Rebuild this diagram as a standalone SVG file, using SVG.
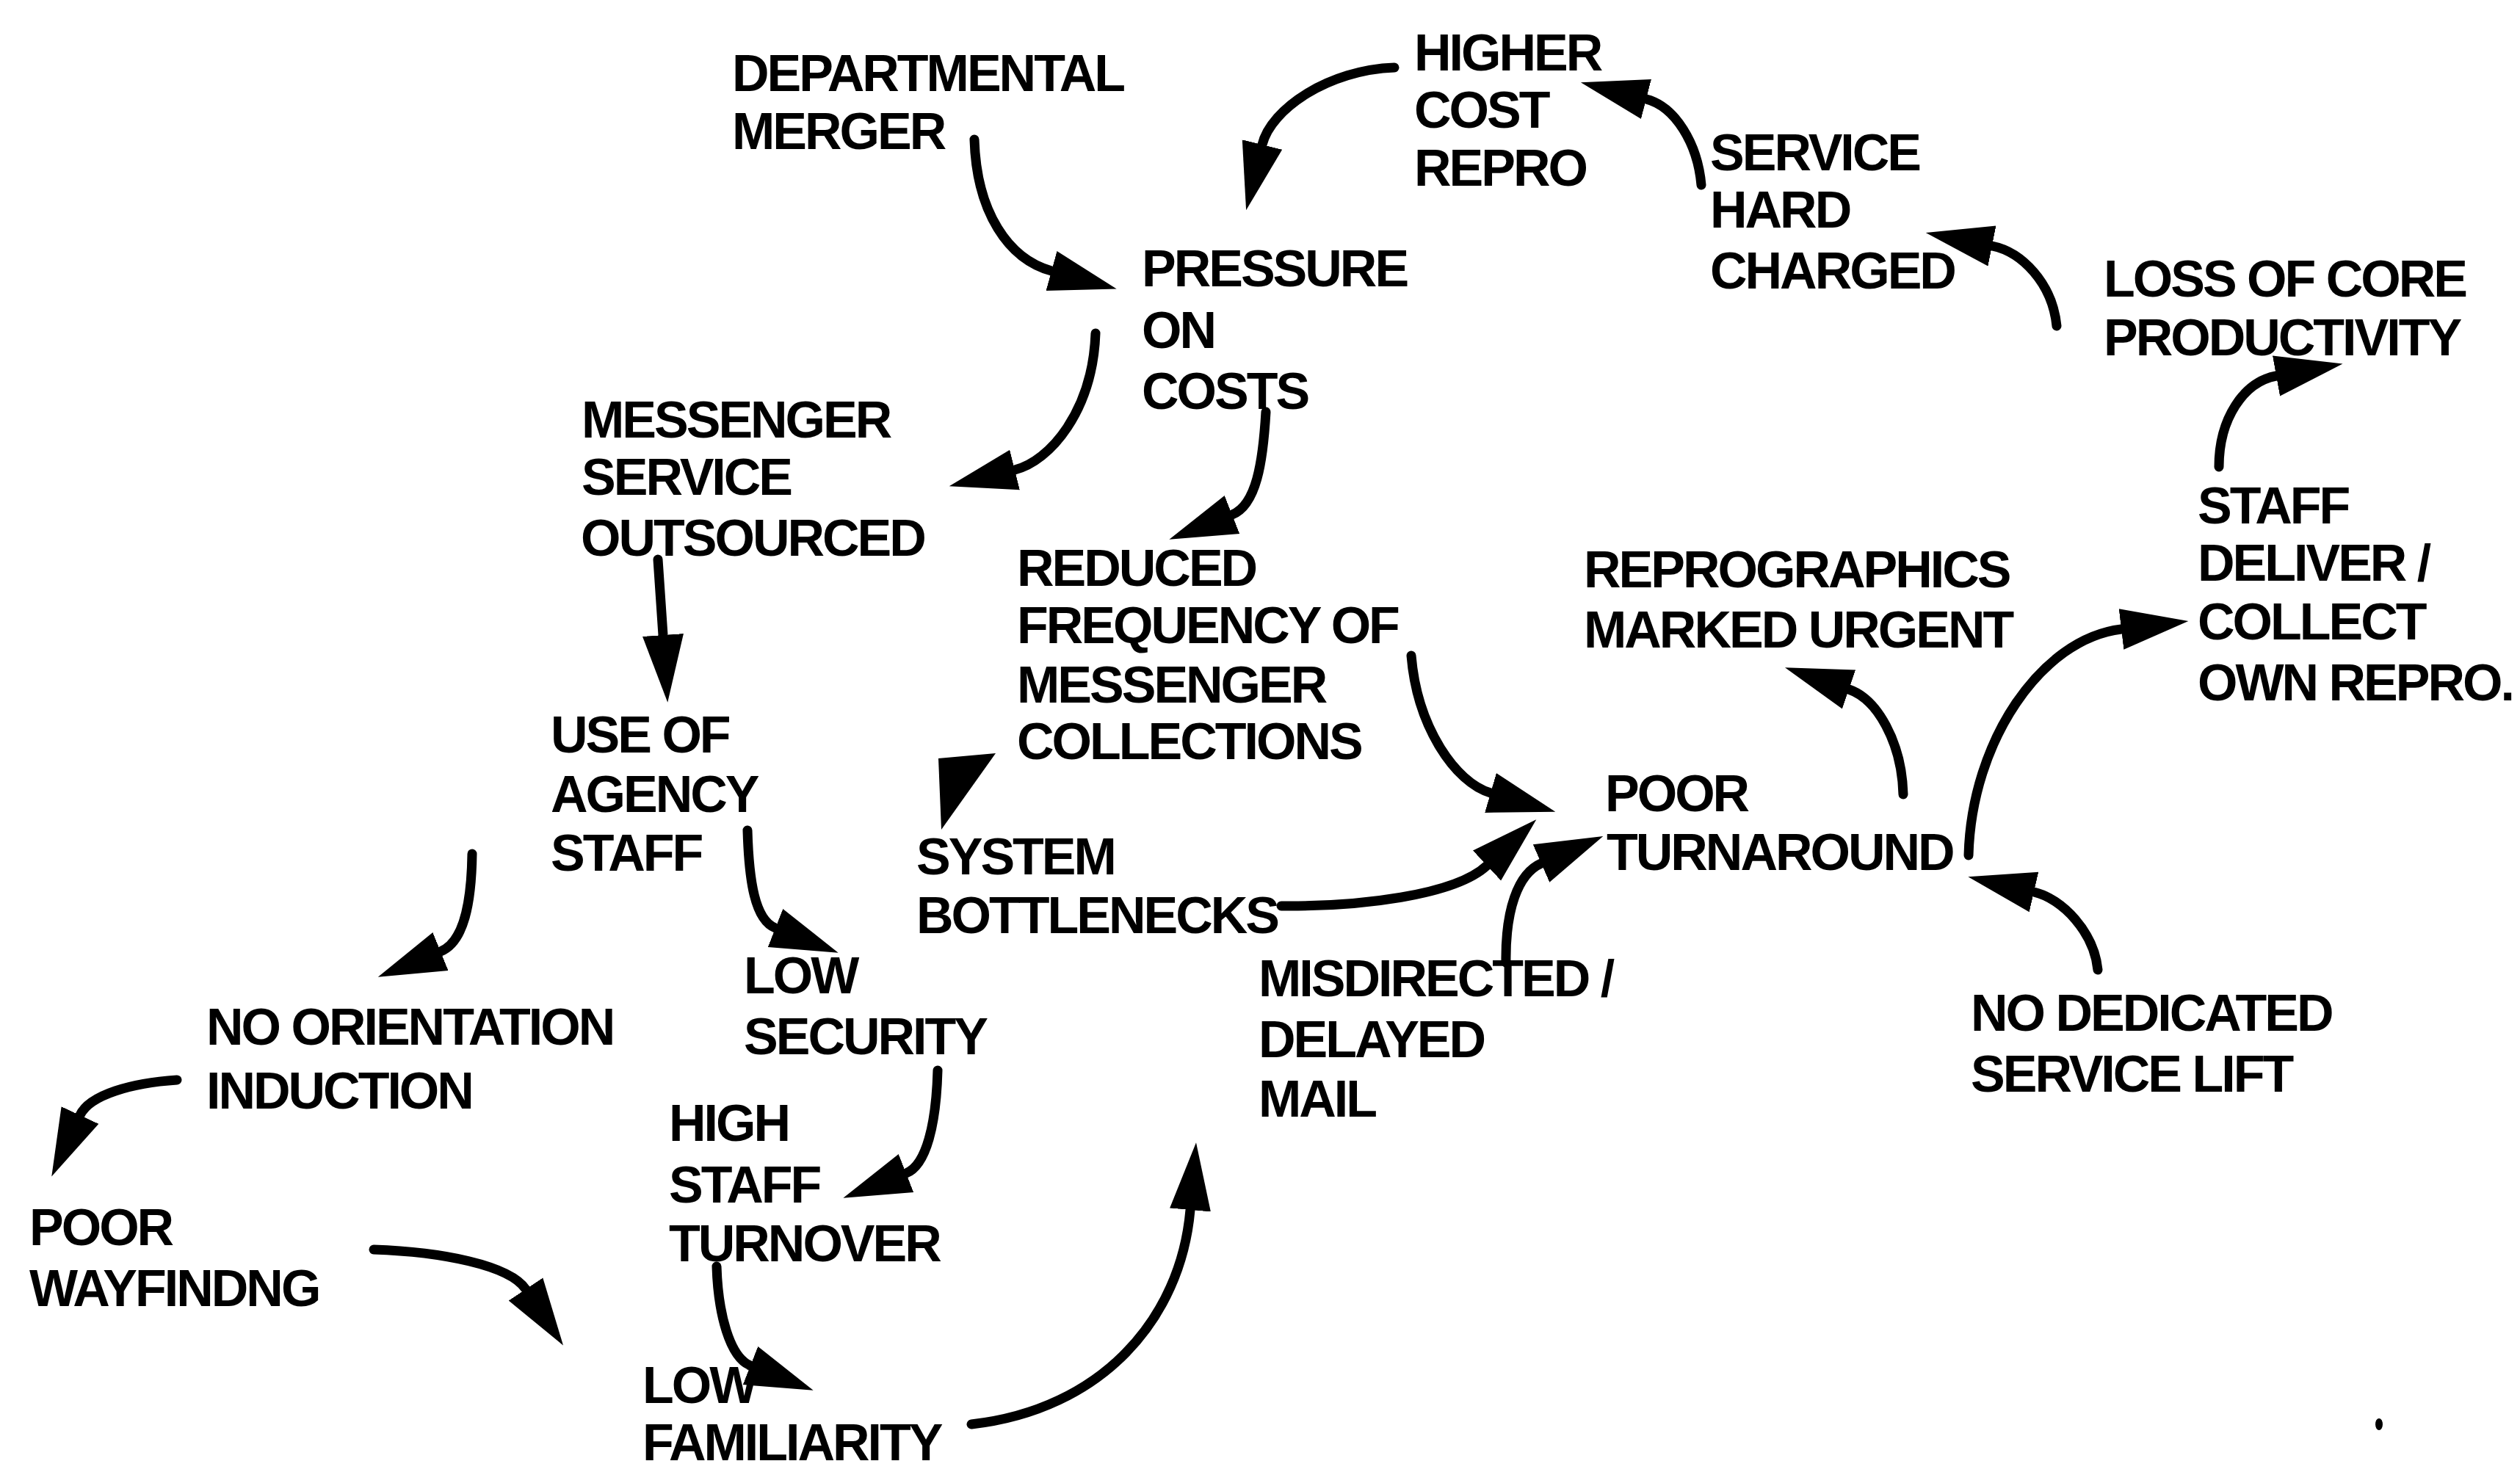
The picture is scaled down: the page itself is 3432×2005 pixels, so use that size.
<svg xmlns="http://www.w3.org/2000/svg" width="3432" height="2005" viewBox="0 0 3432 2005">
  <style>
    .lbl { font-family: "Liberation Sans", Arial, sans-serif; font-weight: bold; font-size: 70px; letter-spacing: -3px; fill: #000; }
    .link { fill: none; stroke: #000; stroke-width: 13; stroke-linecap: round; marker-end: url(#head); }
    .head { fill: #000; }
  </style>
  <defs>
    <marker id="head" markerUnits="userSpaceOnUse" viewBox="0 -30 96 60" markerWidth="96" markerHeight="60" refX="0" refY="0" orient="auto">
      <path d="M0,-28 L92,0 L0,28 Z" fill="#000"/>
    </marker>
  </defs>
  <rect width="3432" height="2005" fill="#fff"/>

  <!-- cause-and-effect arrows -->
  <g id="connectors">
    <path class="link" d="M1327,190 C1330,290 1374,353 1432,369"/>
    <path class="link" d="M1899,92 C1810,95 1731,148 1719,197"/>
    <path class="link" d="M2317,252 C2312,195 2281,145 2242,135"/>
    <path class="link" d="M2801,444 C2795,385 2753,343 2713,335"/>
    <path class="link" d="M3022,636 C3022,570 3056,520 3100,512"/>
    <path class="link" d="M1492,454 C1488,560 1430,628 1382,640"/>
    <path class="link" d="M1724,561 C1720,630 1711,688 1678,701"/>
    <path class="link" d="M896,762 L903,865"/>
    <polygon class="head" points="1278,1033 1356,1026 1282,1130"/>
    <path class="link" d="M1922,893 C1930,990 1982,1066 2030,1080"/>
    <path class="link" d="M1745,1234 C1850,1235 1981,1220 2025,1179"/>
    <path class="link" d="M2051,1311 C2050,1240 2067,1190 2099,1176"/>
    <path class="link" d="M2592,1082 C2590,1010 2556,952 2518,939"/>
    <path class="link" d="M2681,1165 C2685,1010 2780,870 2889,857"/>
    <path class="link" d="M2857,1321 C2852,1270 2809,1224 2770,1215"/>
    <path class="link" d="M643,1163 C642,1230 632,1283 600,1296"/>
    <path class="link" d="M1018,1131 C1020,1200 1028,1253 1056,1264"/>
    <path class="link" d="M241,1471 C180,1475 122,1491 109,1519"/>
    <path class="link" d="M509,1702 C600,1705 694,1723 716,1756"/>
    <path class="link" d="M1277,1458 C1275,1530 1262,1587 1234,1598"/>
    <path class="link" d="M976,1725 C978,1790 994,1849 1022,1860"/>
    <path class="link" d="M1323,1940 C1500,1920 1608,1797 1621,1648"/>
  </g>

  <g id="departmental-merger"><text class="lbl"><tspan x="997" y="124">DEPARTMENTAL</tspan><tspan x="997" y="203">MERGER</tspan></text></g>
  <g id="higher-cost-repro"><text class="lbl"><tspan x="1926" y="96">HIGHER</tspan><tspan x="1926" y="174">COST</tspan><tspan x="1926" y="253">REPRO</tspan></text></g>
  <g id="service-hard-charged"><text class="lbl"><tspan x="2329" y="232">SERVICE</tspan><tspan x="2329" y="310">HARD</tspan><tspan x="2329" y="393">CHARGED</tspan></text></g>
  <g id="pressure-on-costs"><text class="lbl"><tspan x="1555" y="390">PRESSURE</tspan><tspan x="1555" y="474">ON</tspan><tspan x="1555" y="557">COSTS</tspan></text></g>
  <g id="loss-of-core-productivity"><text class="lbl"><tspan x="2865" y="404">LOSS OF CORE</tspan><tspan x="2865" y="484">PRODUCTIVITY</tspan></text></g>
  <g id="messenger-service-outsourced"><text class="lbl"><tspan x="792" y="596">MESSENGER</tspan><tspan x="792" y="674">SERVICE</tspan><tspan x="791" y="757">OUTSOURCED</tspan></text></g>
  <g id="reduced-frequency"><text class="lbl"><tspan x="1385" y="798">REDUCED</tspan><tspan x="1385" y="876">FREQUENCY OF</tspan><tspan x="1385" y="957">MESSENGER</tspan><tspan x="1385" y="1034">COLLECTIONS</tspan></text></g>
  <g id="reprographics-marked-urgent"><text class="lbl"><tspan x="2157" y="800">REPROGRAPHICS</tspan><tspan x="2157" y="882">MARKED URGENT</tspan></text></g>
  <g id="staff-deliver-collect"><text class="lbl"><tspan x="2993" y="713">STAFF</tspan><tspan x="2993" y="791">DELIVER /</tspan><tspan x="2993" y="871">COLLECT</tspan><tspan x="2993" y="954">OWN REPRO.</tspan></text></g>
  <g id="poor-turnaround"><text class="lbl"><tspan x="2186" y="1105">POOR</tspan><tspan x="2188" y="1185">TURNAROUND</tspan></text></g>
  <g id="use-of-agency-staff"><text class="lbl"><tspan x="750" y="1025">USE OF</tspan><tspan x="750" y="1106">AGENCY</tspan><tspan x="750" y="1186">STAFF</tspan></text></g>
  <g id="system-bottlenecks"><text class="lbl"><tspan x="1248" y="1191">SYSTEM</tspan><tspan x="1248" y="1271">BOTTLENECKS</tspan></text></g>
  <g id="low-security"><text class="lbl"><tspan x="1013" y="1353">LOW</tspan><tspan x="1013" y="1436">SECURITY</tspan></text></g>
  <g id="no-orientation-induction"><text class="lbl"><tspan x="281" y="1423">NO ORIENTATION</tspan><tspan x="281" y="1510">INDUCTION</tspan></text></g>
  <g id="misdirected-delayed-mail"><text class="lbl"><tspan x="1714" y="1357">MISDIRECTED /</tspan><tspan x="1714" y="1440">DELAYED</tspan><tspan x="1714" y="1521">MAIL</tspan></text></g>
  <g id="no-dedicated-service-lift"><text class="lbl"><tspan x="2684" y="1404">NO DEDICATED</tspan><tspan x="2684" y="1487">SERVICE LIFT</tspan></text></g>
  <g id="poor-wayfinding"><text class="lbl"><tspan x="40" y="1696">POOR</tspan><tspan x="40" y="1779">WAYFINDNG</tspan></text></g>
  <g id="high-staff-turnover"><text class="lbl"><tspan x="911" y="1554">HIGH</tspan><tspan x="911" y="1638">STAFF</tspan><tspan x="911" y="1718">TURNOVER</tspan></text></g>
  <g id="low-familiarity"><text class="lbl"><tspan x="875" y="1911">LOW</tspan><tspan x="875" y="1989">FAMILIARITY</tspan></text></g>

  <!-- stray ink speck -->
  <ellipse cx="3240" cy="1940" rx="5" ry="8" fill="#000"/>
</svg>
